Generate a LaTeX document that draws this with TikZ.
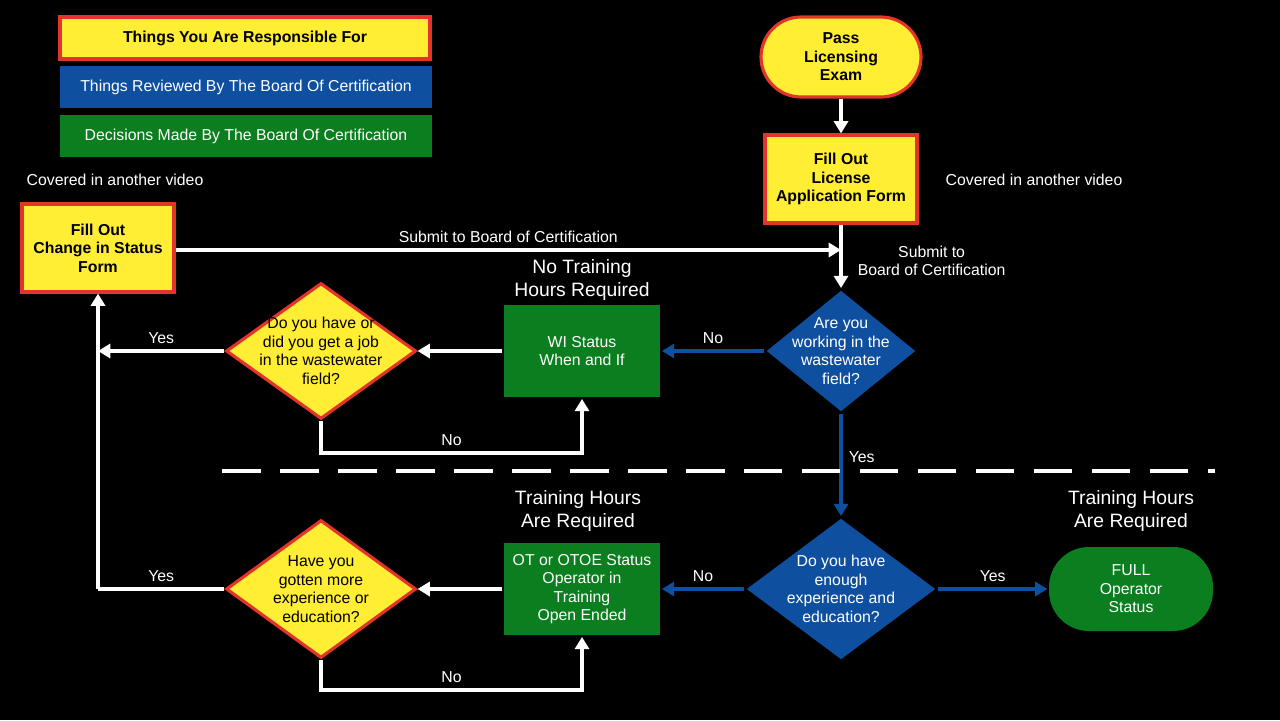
\documentclass[tikz,border=0pt]{standalone}
\usepackage{fontspec}
\setmainfont{Liberation Sans}
\usetikzlibrary{positioning}
\usetikzlibrary{arrows.meta}
\usetikzlibrary{shapes.geometric}
\definecolor{yfill}{HTML}{FFEE33}
\definecolor{rline}{HTML}{E3342B}
\definecolor{bfill}{HTML}{0E4FA0}
\definecolor{gfill}{HTML}{0B7E1F}

\begin{document}
\begin{tikzpicture}[x=0.02cm,y=-0.02cm,>={Triangle[length=7pt,width=8pt]},
                    line width=2.2pt,font=\fontsize{9}{10.5}\selectfont,
                    ybox/.style={rectangle,draw=rline,fill=yfill,line width=1.8pt,align=center,font=\fontsize{9}{10.5}\selectfont\bfseries},
                    ystart/.style={ybox,rounded corners=0.8cm},
                    gbox/.style={rectangle,fill=gfill,text=white,align=center,minimum width=3.12cm,minimum height=1.84cm},
                    ydiamond/.style={diamond,draw=rline,fill=yfill,line width=1.8pt,inner sep=0pt},
                    bdiamond/.style={diamond,fill=bfill,inner sep=0pt},
                    wline/.style={draw=white},
                    bline/.style={draw=bfill},
                    lbl/.style={text=white,align=center},
                    head/.style={text=white,align=center,font=\fontsize{11}{13}\selectfont}]
      \fill[black] (0,0) rectangle (1280,720);
      \useasboundingbox (0,0) rectangle (1280,720);

      % legend
      \node[ybox,minimum width=7.4cm,minimum height=0.84cm] (key1) at (245,38) {Things You Are Responsible For};
      \node[rectangle,fill=bfill,text=white,minimum width=7.44cm,minimum height=0.84cm] (key2) at (246,87) {Things Reviewed By The Board Of Certification};
      \node[rectangle,fill=gfill,text=white,minimum width=7.44cm,minimum height=0.84cm] (key3) at (246,136) {Decisions Made By The Board Of Certification};
      \node[lbl] (cov1) at (115,180) {Covered in another video};
      \node[lbl] (cov2) at (1034,180) {Covered in another video};

      % top boxes
      \node[ystart,minimum width=3.2cm,minimum height=1.6cm] (exam) at (841,57) {Pass\\Licensing\\Exam};
      \node[ybox,minimum width=3.04cm,minimum height=1.76cm] (form) at (841,179) {Fill Out\\License\\Application Form};
      \node[ybox,minimum width=3.04cm,minimum height=1.76cm] (change) at (98,248) {Fill Out\\Change in Status\\Form};

      % upper row
      \node[bdiamond,minimum width=3.0cm,minimum height=2.44cm] (work) at (841,351) {};
      \node[lbl] at (work) {Are you\\working in the\\wastewater\\field?};
      \node[gbox] (wi) at (582,351) {WI Status\\When and If};
      \node[head] (nohrs) at (582,280) {No Training\\Hours Required};
      \node[ydiamond,minimum width=3.8cm,minimum height=2.72cm] (job) at (321,351) {};
      \node[align=center] at (job) {Do you have or\\did you get a job\\in the wastewater\\field?};

      % lower row
      \node[bdiamond,minimum width=3.8cm,minimum height=2.84cm] (enough) at (841,589) {};
      \node[lbl] at (enough) {Do you have\\enough\\experience and\\education?};
      \node[ystart,draw=none,fill=gfill,text=white,font=\fontsize{9}{10.5}\selectfont,minimum width=3.28cm,minimum height=1.68cm] (full) at (1131,589) {FULL\\Operator\\Status};
      \node[head] (hrs2) at (1131,511) {Training Hours\\Are Required};
      \node[gbox] (ot) at (582,589) {OT or OTOE Status\\Operator in\\Training\\Open Ended};
      \node[head] (hrs1) at (578,511) {Training Hours\\Are Required};
      \node[ydiamond,minimum width=3.8cm,minimum height=2.76cm] (more) at (321,589) {};
      \node[align=center] at (more) {Have you\\gotten more\\experience or\\education?};

      \coordinate (jobleft) at (98,351);
      \coordinate (moreleft) at (98,589);
      \coordinate (jobdown) at (321,453);
      \coordinate (wiup) at (582,453);
      \coordinate (moredown) at (321,690);
      \coordinate (otup) at (582,690);
      \coordinate (submit) at (841,250);

      % connectors
      \draw[wline,->] (exam) -- (form);
      \draw[wline] (form) -- (submit);
      \draw[wline,->] (submit) -- (work.north);
      \draw[wline,->] (change.east |- submit) -- (submit) node[midway,above,lbl] {Submit to Board of Certification};
      \node[lbl,anchor=west] (sub2) at (850,261) {Submit to\\Board of Certification};
      \draw[bline,->] (work.west) -- (wi.east) node[midway,above,lbl] {No};
      \draw[wline,->] (wi.west) -- (job.east);
      \draw[wline,->] (job.west) -- (jobleft) node[midway,above,lbl] {Yes};
      \draw[wline,->] (job.south) -- (jobdown) -- (wiup) node[midway,above,lbl] {No} -- (wi.south);
      \draw[bline,->] (work.south) -- (enough.north) node[pos=0.42,right,lbl] {Yes};
      \draw[bline,->] (enough.east) -- (full.west) node[midway,above,lbl] {Yes};
      \draw[bline,->] (enough.west) -- (ot.east) node[midway,above,lbl] {No};
      \draw[wline,->] (ot.west) -- (more.east);
      \draw[wline] (more.west) -- (moreleft) node[midway,above,lbl] {Yes};
      \draw[wline,->] (moreleft) -- (change.south);
      \draw[wline,->] (more.south) -- (moredown) -- (otup) node[midway,above,lbl] {No} -- (ot.south);
      \draw[wline,line width=2.4pt,dash pattern=on 22pt off 11pt] (222,471) -- (1215,471);
\end{tikzpicture}
\end{document}
